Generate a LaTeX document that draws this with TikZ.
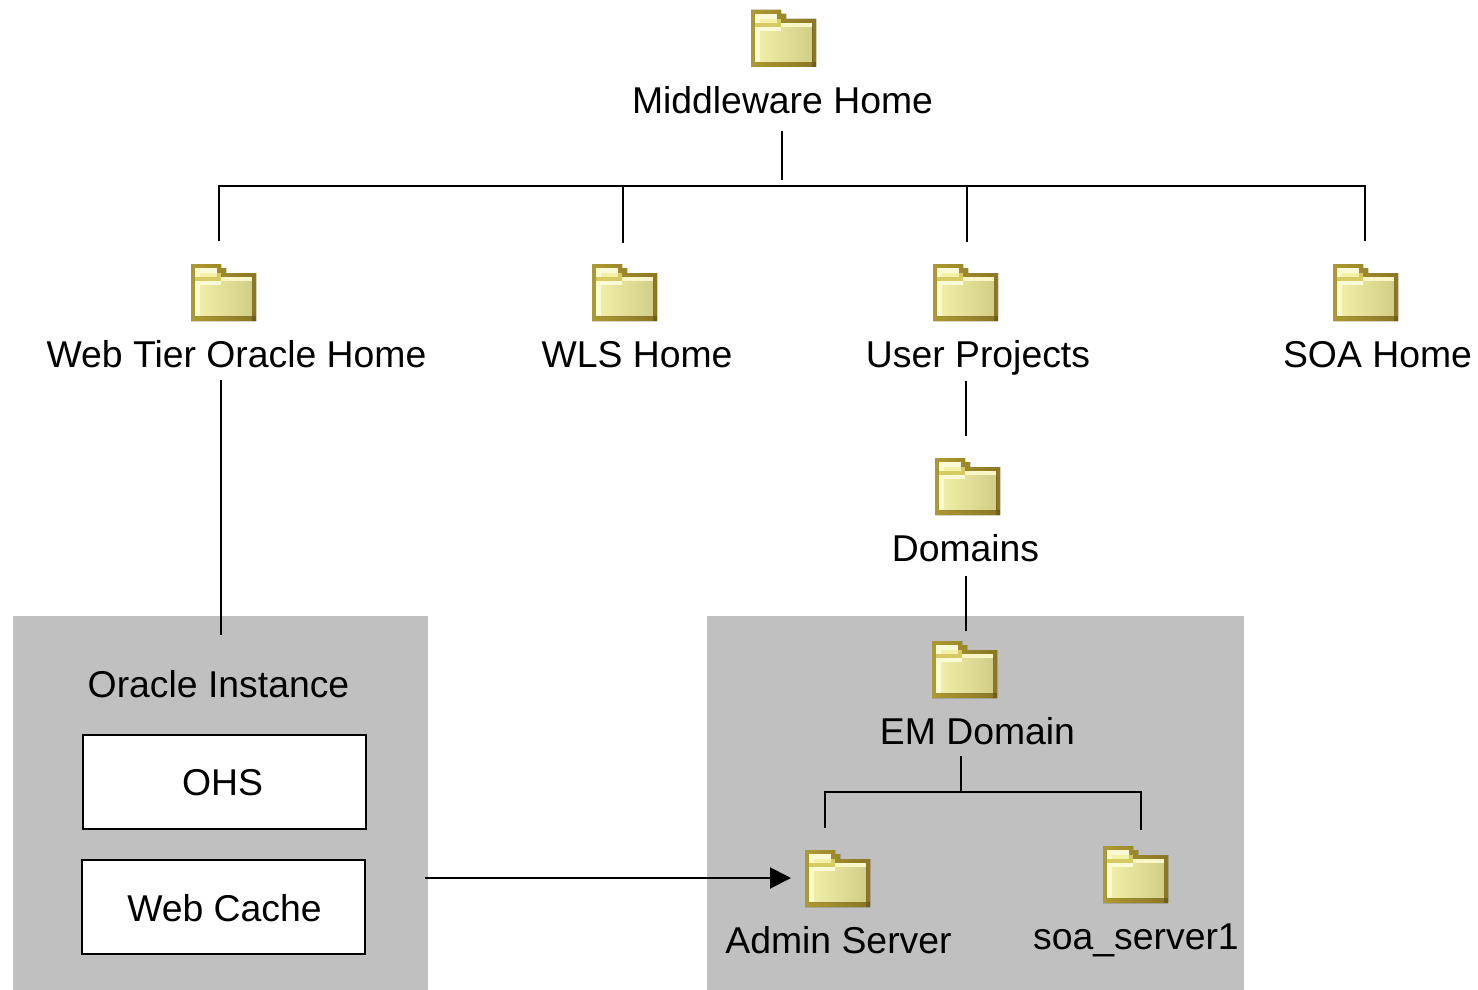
\documentclass[tikz,border=0pt]{standalone}
\usepackage{fontspec}
\setmainfont{Liberation Sans}
\usetikzlibrary{arrows.meta}
\definecolor{fbl}{HTML}{AD9A30}
\definecolor{fbr}{HTML}{8A7625}
\definecolor{fcorner}{HTML}{6F5D1A}
\definecolor{fl}{HTML}{F3F0A8}
\definecolor{fr}{HTML}{D2CE88}
\definecolor{band}{HTML}{D6CB62}
\definecolor{hi}{HTML}{FBFAD6}
\definecolor{panel}{HTML}{C0C0C0}
\tikzset{
  x=1pt,y=-1pt,
  lbl/.style={font=\fontsize{37.35}{37.35}\selectfont,anchor=base,inner sep=0pt,text=black},
  conn/.style={draw=black,line width=2pt},
  panelbox/.style={fill=panel,draw=none},
  whitebox/.style={fill=white,draw=black,line width=2pt,inner sep=0pt},
  folder/.pic={
    \fill[left color=fbl,right color=fbr] (0,0)--(30,0)--(30,4)--(35,4)--(35,9)--(65,9)--(65,57)--(0,57)--cycle;
    \fill[fcorner] (61,52) rectangle (65,57);
    \fill[left color=fl,right color=fr] (4,21)--(4,52)--(61,52)--(61,17)--(30,17)--(30,21)--cycle;
    \fill[hi] (4,17) rectangle (30,21);
    \fill[hi] (4,21) rectangle (9,52);
    \fill[hi!70!fl] (30,13) rectangle (61,17);
    \fill[band] (4,13) rectangle (30,17);
    \fill[hi] (4,4) rectangle (26,13);
    \fill[fl] (9,9) rectangle (26,13);
    \fill[band] (26,9) rectangle (30,13);
  }
}
\begin{document}
\begin{tikzpicture}
\useasboundingbox (0,0) rectangle (1478,990);
\fill[white] (0,0) rectangle (1478,990);
\node[panelbox,minimum width=415pt,minimum height=374pt,inner sep=0pt] (leftpanel) at (220.5,803) {};
\node[panelbox,minimum width=537pt,minimum height=374pt,inner sep=0pt] (rightpanel) at (975.5,803) {};
\node[whitebox,minimum width=283pt,minimum height=94pt] (ohs) at (224.5,782) {};
\node[whitebox,minimum width=283pt,minimum height=94pt] (wc) at (223.5,907) {};

\pic at (751,10) {folder};
\pic at (191,264) {folder};
\pic at (592,264) {folder};
\pic at (933,264) {folder};
\pic at (1333,264) {folder};
\pic at (935,458) {folder};
\pic at (932,641) {folder};
\pic at (805,850) {folder};
\pic at (1103,846) {folder};

\node[lbl] (mw) at (782.5,113) {Middleware Home};
\node[lbl] (wt) at (236.5,367) {Web Tier Oracle Home};
\node[lbl] (wls) at (637,367) {WLS Home};
\node[lbl] (up) at (978,367) {User Projects};
\node[lbl] (soa) at (1377.5,367) {SOA Home};
\node[lbl] (dom) at (965.5,561) {Domains};
\node[lbl] (oi) at (218.5,697) {Oracle Instance};
\node[lbl] (em) at (977.5,744) {EM Domain};
\node[lbl] (ohst) at (222.5,795) {OHS};
\node[lbl] (wct) at (224.5,921) {Web Cache};
\node[lbl] (as) at (838.5,953) {Admin Server};
\node[lbl] (ss) at (1136,949) {soa\_server1};

\coordinate (a1) at (782,131); \coordinate (a2) at (782,180);
\coordinate (hl) at (219,186); \coordinate (hr) at (1365,186);
\coordinate (b1) at (219,241); \coordinate (b2t) at (623,186); \coordinate (b2) at (623,243);
\coordinate (b3t) at (967,186); \coordinate (b3) at (967,242); \coordinate (b4) at (1365,241);
\coordinate (c1) at (966,381); \coordinate (c2) at (966,436);
\coordinate (d1) at (966,576); \coordinate (d2) at (966,631);
\coordinate (e1) at (221,380); \coordinate (e2) at (221,635);
\coordinate (f1) at (961,756); \coordinate (f2) at (961,792);
\coordinate (gl) at (825,792); \coordinate (gr) at (1141,792);
\coordinate (g1) at (825,828); \coordinate (g2) at (1141,830);
\coordinate (h1) at (425,878); \coordinate (h2) at (791,878);

\draw[conn] (a1)--(a2);
\draw[conn] (b1)--(hl)--(hr)--(b4);
\draw[conn] (b2t)--(b2);
\draw[conn] (b3t)--(b3);
\draw[conn] (c1)--(c2);
\draw[conn] (d1)--(d2);
\draw[conn] (e1)--(e2);
\draw[conn] (f1)--(f2);
\draw[conn] (g1)--(gl)--(gr)--(g2);
\draw[conn,-{Triangle[length=21pt,width=21pt]}] (h1)--(h2);
\end{tikzpicture}
\end{document}
